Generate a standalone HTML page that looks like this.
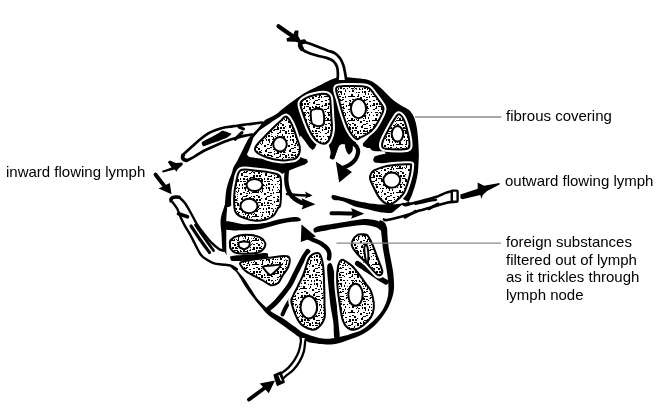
<!DOCTYPE html>
<html><head><meta charset="utf-8"><style>
html,body{margin:0;padding:0;background:#fff;}
body{width:669px;height:418px;position:relative;overflow:hidden;font-family:"Liberation Sans",sans-serif;color:#000;}
svg{position:absolute;left:0;top:0;}
.t{position:absolute;font-size:15px;line-height:17.7px;white-space:nowrap;-webkit-font-smoothing:antialiased;will-change:transform;}
</style></head><body>
<svg width="669" height="418" viewBox="0 0 669 418"><defs><pattern id="st" width="24" height="24" patternUnits="userSpaceOnUse"><rect width="24" height="24" fill="#fff"/><g fill="#000"><rect x="0" y="1" width="2" height="2"/><rect x="3" y="0" width="2" height="1"/><rect x="6" y="1" width="2" height="1"/><rect x="9" y="0" width="1" height="2"/><rect x="12" y="0" width="3" height="1"/><rect x="15" y="0" width="3" height="1"/><rect x="18" y="0" width="1" height="1"/><rect x="21" y="0" width="1" height="1"/><rect x="2" y="5" width="1" height="1"/><rect x="3" y="4" width="3" height="1"/><rect x="6" y="3" width="2" height="1"/><rect x="9" y="5" width="2" height="1"/><rect x="13" y="4" width="2" height="1"/><rect x="16" y="3" width="2" height="1"/><rect x="18" y="4" width="2" height="2"/><rect x="1" y="6" width="2" height="2"/><rect x="4" y="8" width="2" height="1"/><rect x="6" y="8" width="2" height="1"/><rect x="13" y="7" width="2" height="2"/><rect x="16" y="7" width="2" height="2"/><rect x="19" y="7" width="2" height="2"/><rect x="21" y="6" width="1" height="1"/><rect x="0" y="10" width="1" height="2"/><rect x="3" y="10" width="2" height="2"/><rect x="6" y="11" width="2" height="1"/><rect x="10" y="9" width="1" height="2"/><rect x="12" y="9" width="3" height="1"/><rect x="16" y="10" width="1" height="2"/><rect x="18" y="10" width="3" height="1"/><rect x="21" y="11" width="2" height="1"/><rect x="0" y="13" width="2" height="1"/><rect x="3" y="13" width="3" height="1"/><rect x="8" y="12" width="1" height="1"/><rect x="13" y="13" width="2" height="1"/><rect x="15" y="12" width="2" height="1"/><rect x="18" y="14" width="1" height="1"/><rect x="21" y="12" width="2" height="2"/><rect x="2" y="16" width="1" height="2"/><rect x="4" y="15" width="2" height="2"/><rect x="7" y="16" width="2" height="1"/><rect x="11" y="16" width="1" height="1"/><rect x="15" y="16" width="3" height="1"/><rect x="19" y="16" width="2" height="1"/><rect x="23" y="16" width="1" height="2"/><rect x="2" y="19" width="1" height="2"/><rect x="4" y="19" width="2" height="2"/><rect x="9" y="18" width="1" height="2"/><rect x="13" y="19" width="1" height="1"/><rect x="16" y="18" width="2" height="2"/><rect x="20" y="20" width="1" height="1"/><rect x="22" y="20" width="2" height="1"/><rect x="5" y="21" width="1" height="2"/><rect x="8" y="21" width="1" height="2"/><rect x="15" y="22" width="2" height="2"/><rect x="22" y="22" width="1" height="2"/></g></pattern><pattern id="st2" width="24" height="24" patternUnits="userSpaceOnUse"><g fill="#000"><rect x="7" y="0" width="1" height="1"/><rect x="11" y="1" width="1" height="1"/><rect x="22" y="0" width="1" height="1"/><rect x="4" y="3" width="1" height="1"/><rect x="12" y="3" width="1" height="1"/><rect x="21" y="2" width="1" height="1"/><rect x="22" y="3" width="1" height="1"/><rect x="1" y="5" width="1" height="1"/><rect x="5" y="4" width="1" height="1"/><rect x="6" y="4" width="1" height="1"/><rect x="11" y="4" width="1" height="1"/><rect x="14" y="5" width="1" height="1"/><rect x="21" y="4" width="1" height="1"/><rect x="2" y="6" width="1" height="1"/><rect x="7" y="7" width="1" height="1"/><rect x="10" y="7" width="1" height="1"/><rect x="13" y="6" width="1" height="1"/><rect x="19" y="7" width="1" height="1"/><rect x="21" y="6" width="1" height="1"/><rect x="3" y="9" width="1" height="1"/><rect x="7" y="8" width="1" height="1"/><rect x="11" y="9" width="1" height="1"/><rect x="21" y="8" width="1" height="1"/><rect x="1" y="11" width="1" height="1"/><rect x="5" y="11" width="1" height="1"/><rect x="7" y="10" width="1" height="1"/><rect x="9" y="10" width="1" height="1"/><rect x="21" y="10" width="1" height="1"/><rect x="4" y="13" width="1" height="1"/><rect x="7" y="12" width="1" height="1"/><rect x="12" y="13" width="1" height="1"/><rect x="19" y="13" width="1" height="1"/><rect x="21" y="12" width="1" height="1"/><rect x="7" y="14" width="1" height="1"/><rect x="13" y="15" width="1" height="1"/><rect x="18" y="15" width="1" height="1"/><rect x="0" y="17" width="1" height="1"/><rect x="4" y="16" width="1" height="1"/><rect x="7" y="17" width="1" height="1"/><rect x="9" y="17" width="1" height="1"/><rect x="16" y="17" width="1" height="1"/><rect x="18" y="17" width="1" height="1"/><rect x="20" y="17" width="1" height="1"/><rect x="1" y="18" width="1" height="1"/><rect x="3" y="19" width="1" height="1"/><rect x="8" y="19" width="1" height="1"/><rect x="11" y="19" width="1" height="1"/><rect x="21" y="19" width="1" height="1"/><rect x="4" y="20" width="1" height="1"/><rect x="8" y="21" width="1" height="1"/><rect x="14" y="21" width="1" height="1"/><rect x="22" y="21" width="1" height="1"/><rect x="3" y="22" width="1" height="1"/><rect x="5" y="22" width="1" height="1"/><rect x="7" y="23" width="1" height="1"/><rect x="8" y="23" width="1" height="1"/><rect x="11" y="22" width="1" height="1"/><rect x="13" y="22" width="1" height="1"/><rect x="15" y="23" width="1" height="1"/><rect x="16" y="23" width="1" height="1"/><rect x="18" y="23" width="1" height="1"/><rect x="20" y="23" width="1" height="1"/></g></pattern><clipPath id="cf0"><path d="M286,116.6 C287.8,116.7 289.2,120 290.5,122 C291.8,124 292.4,125.8 293.5,128.5 C294.6,131.2 295.9,135.3 297,138.5 C298.1,141.7 299.5,144.9 299.8,147.5 C300.1,150.1 299.8,152.2 299,154 C298.2,155.8 297.1,157.6 295.3,158.6 C293.5,159.6 290.5,159.7 288,160 C285.5,160.3 283.5,160.7 280.2,160.3 C276.9,159.9 271.5,158.9 268,157.8 C264.5,156.8 261.1,155.2 259,154 C256.9,152.8 255.9,151.6 255.3,150.5 C254.7,149.4 254.9,148.7 255.3,147.5 C255.8,146.3 256.5,145.3 258,143.5 C259.5,141.7 262.1,139.3 264.5,136.8 C266.9,134.3 269.9,131.1 272.5,128.5 C275.1,126 277.8,123.5 280,121.5 C282.2,119.5 284.2,116.5 286,116.6Z"/></clipPath><clipPath id="cf1"><path d="M300.5,103.5 C300.9,100.7 303.6,99.4 306,98 C308.4,96.6 311.9,95.7 315,95 C318.1,94.3 322,93.5 324.4,93.8 C326.8,94 328.5,94.8 329.5,96.5 C330.5,98.2 330.3,100.9 330.6,104 C330.9,107.1 331,110.7 331.2,115 C331.4,119.3 332.3,125.8 331.9,130 C331.5,134.2 330.3,137.7 329,140 C327.7,142.3 326,143.6 324,143.8 C322,144 319.1,142.6 317,141 C314.9,139.4 313.1,136.5 311.5,134 C309.9,131.5 309,129.2 307.7,126 C306.4,122.8 304.7,118.8 303.5,115 C302.3,111.2 300.1,106.3 300.5,103.5Z"/></clipPath><clipPath id="cf2"><path d="M336.5,87.5 C338.3,85.2 345.8,86.2 350,86 C354.2,85.8 358.8,86 362,86.3 C365.2,86.6 367.1,86.8 369,88 C370.9,89.2 372.1,91.5 373.7,93.5 C375.3,95.5 376.9,97.7 378.5,100 C380.1,102.3 382.6,105.4 383.3,107.4 C384,109.4 383.4,110.1 382.8,112 C382.2,113.9 381,116.2 379.5,119 C378,121.8 375.6,126.1 373.7,128.5 C371.8,130.9 370.2,132 368,133.5 C365.8,135 362.4,136.6 360.5,137.5 C358.6,138.4 358.3,140.3 356.3,139 C354.3,137.7 350.8,133.6 348.6,129.4 C346.4,125.2 344.5,119 342.9,114.1 C341.3,109.2 340.1,104.4 339,100 C337.9,95.6 334.7,89.8 336.5,87.5Z"/></clipPath><clipPath id="cf3"><path d="M398.7,114.3 C400.2,114.3 402.3,116.7 403.7,119.4 C405.1,122.2 406.4,127 407.3,130.8 C408.2,134.6 409.2,139.4 409.4,142.3 C409.6,145.2 410,146.8 408.7,148 C407.4,149.2 405.3,149.4 401.5,149.5 C397.7,149.6 388.9,149.3 385.7,148.8 C382.5,148.3 382.7,147.9 382.2,146.6 C381.7,145.3 381.8,143.8 382.9,140.9 C384,138 386.7,133 388.6,129.4 C390.5,125.8 392.7,121.9 394.4,119.4 C396.1,116.9 397.1,114.3 398.7,114.3Z"/></clipPath><clipPath id="cf4"><path d="M375,170 C377.6,168.8 381.2,166.9 386.8,165.9 C392.4,164.9 404.5,164.1 408.5,164.2 C412.5,164.3 411,164 411,166.7 C411,169.3 409.8,175.6 408.5,180.1 C407.2,184.6 405.7,189.9 403.5,193.5 C401.3,197.1 397.6,200.1 395.1,201.9 C392.6,203.7 390.9,205 388.4,204.4 C385.9,203.8 382.5,201.4 380,198.5 C377.5,195.6 375.1,190.2 373.4,186.8 C371.7,183.5 370.4,180.6 370,178.4 C369.6,176.2 370.4,174.8 371.2,173.4 C372,172 372.4,171.2 375,170Z"/></clipPath><clipPath id="cf5"><path d="M240.8,170.1 C244.3,168.2 251.7,170.3 257,170.8 C262.3,171.3 268.5,172 272.4,173 C276.3,174 278.8,173.7 280.2,176.8 C281.6,180 281,187.2 281,191.9 C281,196.7 280.7,202.6 280.2,205.3 C279.7,208 279.5,206 278.2,207.9 C276.9,209.8 275.8,214.3 272.4,216.5 C269,218.7 262.9,220.6 258.1,220.8 C253.3,221 247.5,219.4 243.7,217.9 C239.9,216.4 237.1,215.3 235.5,212 C233.9,208.7 234,202.7 234.1,197.8 C234.2,192.9 235,187.1 236.1,182.5 C237.2,177.9 237.3,172 240.8,170.1Z"/></clipPath><clipPath id="cf6"><path d="M230.7,240 C232,238.6 234.6,236.5 237.9,235.7 C241.2,234.9 247,234.6 250.8,235 C254.6,235.4 258.5,236.6 260.9,237.9 C263.3,239.2 264.7,241.1 265.2,242.9 C265.7,244.7 264.9,247.1 263.7,248.7 C262.5,250.3 260.9,251.8 258,252.6 C255.1,253.4 250.3,253.8 246.5,253.8 C242.7,253.8 237.6,253.4 235,252.6 C232.4,251.8 231.5,250.1 230.7,248.7 C229.9,247.3 230,245.8 230,244.3 C230,242.9 229.4,241.4 230.7,240Z"/></clipPath><clipPath id="cf7"><path d="M240.8,262.3 C242.7,261 249.2,260.4 253.7,259.6 C258.2,258.9 262.7,258.4 268,257.8 C273.3,257.2 281.7,255.8 285.3,256 C288.9,256.1 289.1,256.8 289.6,258.7 C290.1,260.6 289.3,264.4 288.1,267.3 C286.9,270.2 284.1,273.3 282.4,275.9 C280.7,278.5 280,281.6 278.1,283.1 C276.2,284.7 273.5,285.7 270.9,285.2 C268.3,284.7 266.4,282.5 262.3,280.2 C258.2,277.9 249.8,273.8 246.5,271.6 C243.2,269.5 243.1,268.9 242.2,267.3 C241.2,265.8 238.9,263.6 240.8,262.3Z"/></clipPath><clipPath id="cf8"><path d="M313.5,253.9 C315.3,253.1 317.9,251.9 319.5,253.9 C321.1,255.9 322.3,259.9 323.1,265.9 C323.9,271.9 324.1,283.3 324.3,289.8 C324.5,296.3 324.5,300.3 324.5,305 C324.5,309.7 325.6,314.2 324.5,318 C323.4,321.8 320.2,325.9 318,327.8 C315.8,329.7 314.4,330.3 311.4,329.5 C308.4,328.7 303.2,327.3 299.9,322.9 C296.6,318.5 292.8,307.7 291.6,303.2 C290.5,298.7 291.9,298.9 293,296 C294.1,293.1 296.2,289.8 298,286 C299.8,282.2 302.1,277.7 303.9,273.1 C305.7,268.6 307.1,261.9 308.7,258.7 C310.3,255.5 311.7,254.7 313.5,253.9Z"/></clipPath><clipPath id="cf9"><path d="M341.2,260 C342.5,259.2 344.1,260.4 346,261.5 C347.9,262.6 350,263.8 352.4,266.3 C354.8,268.8 358.3,273.4 360.6,276.4 C362.9,279.3 364.3,281.6 366,284 C367.7,286.4 369.4,287.6 370.7,290.7 C372,293.8 373.4,299.2 373.8,302.9 C374.2,306.6 373.8,310 372.8,313.1 C371.8,316.2 370.1,318.8 367.7,321.3 C365.3,323.8 361.4,327 358.5,328.3 C355.6,329.6 352.9,330.6 350.4,329.4 C347.8,328.2 345.1,326.1 343.2,321.3 C341.3,316.6 340.2,307.7 339.2,300.9 C338.2,294.1 337.3,286.3 337.1,280.5 C336.9,274.7 337.4,269.7 338.1,266.3 C338.8,262.9 339.9,260.8 341.2,260Z"/></clipPath><clipPath id="cf10"><path d="M361.2,234.3 C362.9,234.3 365.2,233.6 367,235.1 C368.8,236.6 370.3,239.9 372,243.5 C373.7,247.1 375.4,252.4 377.1,256.9 C378.8,261.4 381.4,267.4 382.1,270.3 C382.8,273.2 382.1,273.8 381.3,274.5 C380.5,275.2 379.5,276.3 377.1,274.5 C374.7,272.7 370.4,267.1 367,263.6 C363.6,260.1 359.5,256.4 357,253.5 C354.5,250.6 352.7,248.2 352,246 C351.3,243.8 352,241.9 352.8,240.1 C353.6,238.3 355.6,236.3 357,235.3 C358.4,234.3 359.5,234.3 361.2,234.3Z"/></clipPath></defs><g fill="#000"><path d="M224.8,207 C225,204.5 225.4,196.2 226,192 C226.6,187.8 227.5,185 228.4,182 C229.3,179 230.6,176.5 231.5,174 C232.4,171.5 232.6,169.3 233.6,167 C234.6,164.7 236,163.2 237.6,160.2 C239.2,157.1 241.6,152.1 243.3,148.7 C245,145.2 246.6,141.9 248,139.5 C249.4,137.1 250.3,136.3 252,134.5 C253.7,132.7 256,130.8 258,128.5 C260,126.2 262,122.8 264,121 C266,119.2 267.9,118.7 270,117.5 C272.1,116.3 274.1,115.7 276.5,114 C278.9,112.3 281.7,109.6 284.6,107.3 C287.5,105 290.9,102.6 294.1,100.3 C297.3,98 300.5,95.6 303.7,93.6 C306.9,91.6 310.6,89.9 313.3,88.5 C316,87.1 317.5,86.5 320,85.2 C322.5,84 325.6,82.2 328.3,81 C331,79.8 333.1,78.6 336,78 C338.9,77.4 342.6,77.2 345.7,77.2 C348.8,77.2 351,77.6 354.4,77.9 C357.8,78.2 362.5,78.5 365.9,79.3 C369.2,80.1 371.9,81.3 374.5,82.9 C377.1,84.5 379.3,86.5 381.7,88.7 C384.1,90.9 386.7,93.8 388.9,95.9 C391.1,98 392.8,99.8 395,101.5 C397.2,103.2 399.7,104.6 402,106 C404.3,107.4 406.8,108 408.7,109.8 C410.6,111.5 412.4,113.7 413.7,116.5 C415,119.3 415.9,122.9 416.6,126.5 C417.3,130.1 417.6,133.7 418,138 C418.4,142.3 418.7,148.4 418.8,152.4 C418.9,156.4 418.8,158.5 418.6,162 C418.4,165.5 418.3,169.6 417.7,173.4 C417.1,177.2 416.2,181.5 415.2,185.1 C414.2,188.7 413,192.4 411.9,195.2 C410.8,198 409.1,200.9 408.5,202 L403,199 L396,196 L392,185 L398,170 L396,162 L382,163.3 L374.5,162.5 L373,160 L374.5,156.5 L379,154.9 L386,153.6 L384,151.3 L375.5,151.3 L372,150.6 L369.8,148 L367.2,148 L363,146 L362.8,143.5 L368,138 L372,131 L366,131 L358,133 L357.5,140 L355.5,143.3 L351.5,145 L347,144.8 L342,144 L338.5,146 L336.5,152 L334,158.7 L331.3,158 L330.3,150 L328,143 L322,139.5 L317,143.5 L314.5,148.5 L312.5,150 L309.5,147.5 L304.5,140.5 L300.5,135.5 L296,145 L297,155 L303,158.2 L306.9,159.3 L308,162 L305,164.5 L301.1,165.8 L291.6,169.6 L286,172 L282,174 L276,176 L265,190 L240,200 L229,207Z"/><path d="M224.8,205 C224.1,207.4 221.2,214.6 220.7,219.4 C220.1,224.2 221.2,228.9 221.5,233.7 C221.8,238.5 221.9,244.5 222.2,248.1 C222.4,251.7 221.7,251.9 223,255 C224.3,258.1 227.7,263.5 230,266.5 C232.3,269.5 234.5,269.7 237,273 C239.5,276.3 242.4,282.2 245,286.2 C247.6,290.2 250.2,293.7 252.8,297.1 C255.4,300.5 258,303.4 260.6,306.4 C263.2,309.4 265.2,312.3 268.3,315 C271.4,317.7 275.3,320 279.2,322.8 C283.1,325.6 288.2,329.3 291.7,331.8 C295.2,334.3 297.8,336.4 300,337.8 C302.2,339.2 303.1,339.2 305,340 C306.9,340.8 307,342.1 311.4,342.8 C315.8,343.6 325.1,344.9 331.1,344.5 C337.1,344.1 342.1,342 347.6,340.2 C353.1,338.4 359.1,336.5 364,333.6 C368.9,330.7 373.4,326.9 377.2,322.9 C381,318.9 384.5,313.8 387,309.7 C389.5,305.6 390.8,301.8 392,298.2 C393.2,294.6 393.8,292.1 394,288 C394.2,283.9 393.8,278.3 393.3,273.7 C392.8,269.1 391.8,264.5 391,260.3 C390.2,256.1 389.4,252.6 388.8,248.5 C388.2,244.4 387.8,239.4 387.5,236 C387.2,232.6 387.5,230.2 387,228 C386.5,225.8 385.7,223.8 384.5,222.5 C383.3,221.2 380.8,220.4 380,220 L377,225 C377.6,225.7 379.8,227.3 380.5,229 C381.2,230.7 381.1,231.8 381.5,235.1 C381.9,238.3 382.3,244.3 382.9,248.5 C383.5,252.7 384.3,256.1 385,260.3 C385.7,264.5 386.6,269.1 387.2,273.7 C387.8,278.3 388.5,283.6 388.5,288 C388.5,292.4 388.3,295.7 387,299.9 C385.7,304.1 383.5,308.9 380.5,313 C377.5,317.1 373.1,321.4 369,324.5 C364.9,327.6 360.8,329.8 355.8,331.9 C350.9,334 344.8,335.8 339.3,336.9 C333.8,338 328.8,339.2 322.9,338.5 C317,337.8 308.8,334.9 304.1,332.9 C299.4,330.9 298.2,329 294.8,326.7 C291.4,324.4 287.5,321.2 283.9,318.9 C280.3,316.6 276.1,314.8 273,312.7 C269.9,310.6 267.8,308.7 265.2,306.4 C262.6,304.1 259.7,301.5 257.4,298.7 C255.1,295.9 253.6,292.9 251.2,289.3 C248.8,285.7 246,280.9 243,277 C240,273.1 235.7,269.5 233,266 C230.3,262.5 228.1,259.5 227,256 C225.9,252.5 226.4,248.7 226.3,245 C226.2,241.3 226.3,238 226.3,233.7 C226.3,229.4 226.1,224.2 226.3,219.4 C226.5,214.6 227.3,207.4 227.5,205Z"/><path d="M287,169 C286.9,170.8 286.2,176.7 286.3,180 C286.4,183.3 286.9,186.2 287.8,189 C288.8,191.8 290.1,194.4 292,196.5 C293.9,198.6 296.7,200.2 299,201.5 C301.3,202.8 304.8,203.6 306,204" fill="none" stroke="#000" stroke-width="4.4" stroke-linecap="round" stroke-linejoin="round"/><path d="M315.5,204.3 L301.5,198.2 L303.5,204.5 L301.5,209.6Z" fill="#000"/><path d="M287,194 C288.7,194.2 293.3,194.7 297,195 C300.7,195.3 307,195.5 309,195.6" fill="none" stroke="#000" stroke-width="2.6" stroke-linecap="round" stroke-linejoin="round"/><path d="M312.5,195.5 L305,191.5 L306.5,195.2 L305,198.5Z" fill="#000"/><path d="M226,221.5 C228.9,220.6 237.2,224 243.7,224.2 C250.2,224.4 259.2,223.6 265.2,222.8 C271.2,222 274.6,220.3 279.6,219.3 C284.6,218.3 292,217.1 295.4,217 C298.8,216.9 299.2,217.9 299.9,218.6 C300.6,219.3 301.9,220.3 299.7,221 C297.5,221.7 291.4,221.7 286.8,222.5 C282.2,223.3 277.2,224.8 272.4,226 C267.6,227.2 262.9,228.9 258.1,229.6 C253.3,230.3 249,230.3 243.7,230.3 C238.3,230.3 228.9,231.1 226,229.6 C223.1,228.1 223.1,222.4 226,221.5Z"/><path d="M307.8,251.5 C307.2,252.4 305.2,255.1 304,257 C302.8,258.9 302.2,260.2 300.8,263 C299.4,265.8 297.3,269.9 295.5,273.5 C293.7,277.1 292.1,281.1 290,284.5 C287.9,287.9 285.4,291 283,294 C280.6,297 278.3,299.9 275.8,302.5 C273.3,305.1 269.3,308.3 268,309.5" fill="none" stroke="#000" stroke-width="5" stroke-linecap="round" stroke-linejoin="round"/><path d="M282.5,314.5 C283.1,313.2 284.6,309.6 286,307 C287.4,304.4 289.3,301.4 291,299 C292.7,296.6 295.4,293.6 296.3,292.5" fill="none" stroke="#000" stroke-width="4" stroke-linecap="round" stroke-linejoin="round"/><path d="M327.3,266 C327.7,263.8 329.1,263 330,263 C330.9,263 331.5,263.2 332.5,266 C333.5,268.8 335,276 336,280 C337,284 338.3,285.7 338.5,290 C338.7,294.3 337,300.5 337,306 C337,311.5 338.1,317.6 338.5,322.9 C338.9,328.2 340.2,335.5 339.5,338 C338.8,340.5 335.5,340.5 334.5,338 C333.5,335.5 334,328.2 333.4,322.9 C332.8,317.6 331.4,311.9 330.6,306.4 C329.8,300.9 329.3,295.1 328.8,290 C328.3,284.9 327.8,280 327.5,276 C327.2,272 326.9,268.2 327.3,266Z"/><path d="M357.5,263.5 C358.8,264.3 362.6,266.9 365,268.5 C367.4,270.1 369.5,271.5 372,273.2 C374.5,274.9 377.7,277 380,278.5 C382.3,280 385,281.4 386,282" fill="none" stroke="#000" stroke-width="5.2" stroke-linecap="round" stroke-linejoin="round"/></g><path d="M253.3,138 C253.7,137.2 255.4,135.2 256,134.5 C256.6,133.8 258.8,131.2 259.5,130.5 C260.2,129.8 262.3,128.5 263,128 C263.7,127.5 265.9,126.1 266.7,125.6 C267.5,125 270.2,123.1 271,122.5 C271.8,121.9 274.3,120.3 275.1,119.8 C275.9,119.3 278.3,117.7 279,117.2 C279.7,116.7 281.8,115.2 282.5,115 C283.2,114.8 285.9,114.5 286,115.5 C286.1,116.5 285.4,122.5 284,125 C282.6,127.5 274,137.3 272,140 C270,142.7 265,150.2 264,152 C263,153.8 262.8,157.7 262,158.3 C261.2,158.9 257.2,158.1 256,158 C254.8,157.9 250.4,157.3 249.5,157 C248.6,156.7 247.1,155.1 247,154.5 C246.9,153.9 248.2,151.8 248.5,151 C248.8,150.2 249.9,147.8 250.2,147 C250.5,146.2 251.5,143.4 251.8,142.5 C252.1,141.6 252.9,138.8 253.3,138Z" fill="#fff"/><g fill="#fff" stroke="#fff" stroke-width="6" stroke-linejoin="round"><path d="M286,116.6 C287.8,116.7 289.2,120 290.5,122 C291.8,124 292.4,125.8 293.5,128.5 C294.6,131.2 295.9,135.3 297,138.5 C298.1,141.7 299.5,144.9 299.8,147.5 C300.1,150.1 299.8,152.2 299,154 C298.2,155.8 297.1,157.6 295.3,158.6 C293.5,159.6 290.5,159.7 288,160 C285.5,160.3 283.5,160.7 280.2,160.3 C276.9,159.9 271.5,158.9 268,157.8 C264.5,156.8 261.1,155.2 259,154 C256.9,152.8 255.9,151.6 255.3,150.5 C254.7,149.4 254.9,148.7 255.3,147.5 C255.8,146.3 256.5,145.3 258,143.5 C259.5,141.7 262.1,139.3 264.5,136.8 C266.9,134.3 269.9,131.1 272.5,128.5 C275.1,126 277.8,123.5 280,121.5 C282.2,119.5 284.2,116.5 286,116.6Z"/><path d="M300.5,103.5 C300.9,100.7 303.6,99.4 306,98 C308.4,96.6 311.9,95.7 315,95 C318.1,94.3 322,93.5 324.4,93.8 C326.8,94 328.5,94.8 329.5,96.5 C330.5,98.2 330.3,100.9 330.6,104 C330.9,107.1 331,110.7 331.2,115 C331.4,119.3 332.3,125.8 331.9,130 C331.5,134.2 330.3,137.7 329,140 C327.7,142.3 326,143.6 324,143.8 C322,144 319.1,142.6 317,141 C314.9,139.4 313.1,136.5 311.5,134 C309.9,131.5 309,129.2 307.7,126 C306.4,122.8 304.7,118.8 303.5,115 C302.3,111.2 300.1,106.3 300.5,103.5Z"/><path d="M336.5,87.5 C338.3,85.2 345.8,86.2 350,86 C354.2,85.8 358.8,86 362,86.3 C365.2,86.6 367.1,86.8 369,88 C370.9,89.2 372.1,91.5 373.7,93.5 C375.3,95.5 376.9,97.7 378.5,100 C380.1,102.3 382.6,105.4 383.3,107.4 C384,109.4 383.4,110.1 382.8,112 C382.2,113.9 381,116.2 379.5,119 C378,121.8 375.6,126.1 373.7,128.5 C371.8,130.9 370.2,132 368,133.5 C365.8,135 362.4,136.6 360.5,137.5 C358.6,138.4 358.3,140.3 356.3,139 C354.3,137.7 350.8,133.6 348.6,129.4 C346.4,125.2 344.5,119 342.9,114.1 C341.3,109.2 340.1,104.4 339,100 C337.9,95.6 334.7,89.8 336.5,87.5Z"/><path d="M398.7,114.3 C400.2,114.3 402.3,116.7 403.7,119.4 C405.1,122.2 406.4,127 407.3,130.8 C408.2,134.6 409.2,139.4 409.4,142.3 C409.6,145.2 410,146.8 408.7,148 C407.4,149.2 405.3,149.4 401.5,149.5 C397.7,149.6 388.9,149.3 385.7,148.8 C382.5,148.3 382.7,147.9 382.2,146.6 C381.7,145.3 381.8,143.8 382.9,140.9 C384,138 386.7,133 388.6,129.4 C390.5,125.8 392.7,121.9 394.4,119.4 C396.1,116.9 397.1,114.3 398.7,114.3Z"/><path d="M375,170 C377.6,168.8 381.2,166.9 386.8,165.9 C392.4,164.9 404.5,164.1 408.5,164.2 C412.5,164.3 411,164 411,166.7 C411,169.3 409.8,175.6 408.5,180.1 C407.2,184.6 405.7,189.9 403.5,193.5 C401.3,197.1 397.6,200.1 395.1,201.9 C392.6,203.7 390.9,205 388.4,204.4 C385.9,203.8 382.5,201.4 380,198.5 C377.5,195.6 375.1,190.2 373.4,186.8 C371.7,183.5 370.4,180.6 370,178.4 C369.6,176.2 370.4,174.8 371.2,173.4 C372,172 372.4,171.2 375,170Z"/><path d="M240.8,170.1 C244.3,168.2 251.7,170.3 257,170.8 C262.3,171.3 268.5,172 272.4,173 C276.3,174 278.8,173.7 280.2,176.8 C281.6,180 281,187.2 281,191.9 C281,196.7 280.7,202.6 280.2,205.3 C279.7,208 279.5,206 278.2,207.9 C276.9,209.8 275.8,214.3 272.4,216.5 C269,218.7 262.9,220.6 258.1,220.8 C253.3,221 247.5,219.4 243.7,217.9 C239.9,216.4 237.1,215.3 235.5,212 C233.9,208.7 234,202.7 234.1,197.8 C234.2,192.9 235,187.1 236.1,182.5 C237.2,177.9 237.3,172 240.8,170.1Z"/><path d="M230.7,240 C232,238.6 234.6,236.5 237.9,235.7 C241.2,234.9 247,234.6 250.8,235 C254.6,235.4 258.5,236.6 260.9,237.9 C263.3,239.2 264.7,241.1 265.2,242.9 C265.7,244.7 264.9,247.1 263.7,248.7 C262.5,250.3 260.9,251.8 258,252.6 C255.1,253.4 250.3,253.8 246.5,253.8 C242.7,253.8 237.6,253.4 235,252.6 C232.4,251.8 231.5,250.1 230.7,248.7 C229.9,247.3 230,245.8 230,244.3 C230,242.9 229.4,241.4 230.7,240Z"/><path d="M240.8,262.3 C242.7,261 249.2,260.4 253.7,259.6 C258.2,258.9 262.7,258.4 268,257.8 C273.3,257.2 281.7,255.8 285.3,256 C288.9,256.1 289.1,256.8 289.6,258.7 C290.1,260.6 289.3,264.4 288.1,267.3 C286.9,270.2 284.1,273.3 282.4,275.9 C280.7,278.5 280,281.6 278.1,283.1 C276.2,284.7 273.5,285.7 270.9,285.2 C268.3,284.7 266.4,282.5 262.3,280.2 C258.2,277.9 249.8,273.8 246.5,271.6 C243.2,269.5 243.1,268.9 242.2,267.3 C241.2,265.8 238.9,263.6 240.8,262.3Z"/><path d="M313.5,253.9 C315.3,253.1 317.9,251.9 319.5,253.9 C321.1,255.9 322.3,259.9 323.1,265.9 C323.9,271.9 324.1,283.3 324.3,289.8 C324.5,296.3 324.5,300.3 324.5,305 C324.5,309.7 325.6,314.2 324.5,318 C323.4,321.8 320.2,325.9 318,327.8 C315.8,329.7 314.4,330.3 311.4,329.5 C308.4,328.7 303.2,327.3 299.9,322.9 C296.6,318.5 292.8,307.7 291.6,303.2 C290.5,298.7 291.9,298.9 293,296 C294.1,293.1 296.2,289.8 298,286 C299.8,282.2 302.1,277.7 303.9,273.1 C305.7,268.6 307.1,261.9 308.7,258.7 C310.3,255.5 311.7,254.7 313.5,253.9Z"/><path d="M341.2,260 C342.5,259.2 344.1,260.4 346,261.5 C347.9,262.6 350,263.8 352.4,266.3 C354.8,268.8 358.3,273.4 360.6,276.4 C362.9,279.3 364.3,281.6 366,284 C367.7,286.4 369.4,287.6 370.7,290.7 C372,293.8 373.4,299.2 373.8,302.9 C374.2,306.6 373.8,310 372.8,313.1 C371.8,316.2 370.1,318.8 367.7,321.3 C365.3,323.8 361.4,327 358.5,328.3 C355.6,329.6 352.9,330.6 350.4,329.4 C347.8,328.2 345.1,326.1 343.2,321.3 C341.3,316.6 340.2,307.7 339.2,300.9 C338.2,294.1 337.3,286.3 337.1,280.5 C336.9,274.7 337.4,269.7 338.1,266.3 C338.8,262.9 339.9,260.8 341.2,260Z"/><path d="M361.2,234.3 C362.9,234.3 365.2,233.6 367,235.1 C368.8,236.6 370.3,239.9 372,243.5 C373.7,247.1 375.4,252.4 377.1,256.9 C378.8,261.4 381.4,267.4 382.1,270.3 C382.8,273.2 382.1,273.8 381.3,274.5 C380.5,275.2 379.5,276.3 377.1,274.5 C374.7,272.7 370.4,267.1 367,263.6 C363.6,260.1 359.5,256.4 357,253.5 C354.5,250.6 352.7,248.2 352,246 C351.3,243.8 352,241.9 352.8,240.1 C353.6,238.3 355.6,236.3 357,235.3 C358.4,234.3 359.5,234.3 361.2,234.3Z"/></g><g fill="#000"><path d="M338,142 C337.5,143.2 335.9,146.5 335,149 C334.1,151.5 332.8,155.7 332.3,157" fill="none" stroke="#000" stroke-width="5" stroke-linecap="round" stroke-linejoin="round"/><path d="M347,143.5 C348.2,143.7 352.7,143.5 354.5,144.5 C356.3,145.5 357.5,147.8 358,149.5 C358.5,151.2 358,153.2 357.5,155 C357,156.8 356.2,158.4 355,160 C353.8,161.6 352.2,163.1 350,164.5 C347.8,165.9 343.3,167.8 342,168.5" fill="none" stroke="#000" stroke-width="4.2" stroke-linecap="round" stroke-linejoin="round"/><path d="M345.5,144.5 C346.5,143.7 350.8,144 352,145 C353.2,146 353,148.9 352.5,150.5 C352,152.1 350.1,154.6 349,154.5 C347.9,154.4 346.6,151.7 346,150 C345.4,148.3 344.5,145.3 345.5,144.5Z"/><path d="M335.8,161.5 L352,172 L339.2,182.5Z" fill="#000"/><path d="M232,256 C235.2,255.3 244.3,255.1 250,254.6 C255.7,254.1 263,252.8 266,253 C269,253.2 267.9,254.7 268,255.5 C268.1,256.3 269.3,257.2 266.5,258 C263.7,258.8 256.6,259.8 251,260.3 C245.4,260.8 236.4,261.3 233,261 C229.6,260.7 230.7,259.3 230.5,258.5 C230.3,257.7 228.8,256.6 232,256Z"/><path d="M333,195 C334.5,195 340.1,196.6 343,197.3 C345.9,198 351.6,199.8 355,200.6 C358.4,201.4 364.9,202.7 368.5,203.2 C372.1,203.7 378.7,204.4 381.9,204.5 C385.1,204.6 390,204.4 392.7,204.3 C395.4,204.2 399.8,203.8 402,203.5 C404.2,203.2 407.5,201.8 409,202 C410.5,202.2 413,204.3 413,205 C413,205.7 410.3,206.7 408.8,207.3 C407.3,207.9 403.7,208.9 401.6,209.6 C399.5,210.3 395.3,212.4 392.7,212.8 C390.1,213.2 385.1,213 381.9,212.5 C378.7,212 372.1,210.2 368.5,209.4 C364.9,208.6 358.4,207.6 355,206.5 C351.6,205.4 345.8,202.2 343,201.3 C340.2,200.4 335.5,200.5 334,200 C332.5,199.5 331.6,198.2 331.5,197.5 C331.4,196.8 331.5,195 333,195Z"/><path d="M331.5,213.3 C332.9,213.3 336.6,213.3 340,213.3 C343.4,213.3 350,213.5 352,213.5" fill="none" stroke="#000" stroke-width="4" stroke-linecap="round" stroke-linejoin="round"/><path d="M364.3,213.8 L351.1,208 L353,213.5 L351.1,218.7Z" fill="#000"/><path d="M313.5,229 C314,228.2 314.9,227 318,226.2 C321.1,225.4 331,224.1 336.9,223.2 C342.8,222.3 356.9,219.6 362,219.2 C367.1,218.8 372.7,219.7 375.4,220.3 C378.1,220.9 381.1,222.3 382.5,223.5 C383.9,224.7 386.2,228.1 386,229 C385.8,229.9 382.3,230.7 381,230.5 C379.7,230.3 378.5,227.9 376,227.2 C373.5,226.5 367.2,224.8 362,225 C356.8,225.2 342.8,227.6 336.9,228.5 C331,229.4 321,231.5 318,232 C315,232.5 315.1,232.9 314.5,232.5 C313.9,232.1 313,229.8 313.5,229Z"/><path d="M329,258.5 C329.1,257.7 329.6,255.1 329.3,253.5 C329.1,251.9 328.8,250.6 327.5,249 C326.2,247.4 323.6,245.2 321.3,243.7 C319.1,242.2 316.2,241.2 314,240.2 C311.8,239.2 309,237.9 308,237.5" fill="none" stroke="#000" stroke-width="4.4" stroke-linecap="round" stroke-linejoin="round"/><path d="M301.5,224.5 L300.8,242 L316,236.5Z" fill="#000"/></g><g fill="url(#st)" stroke="none"><path d="M286,116.6 C287.8,116.7 289.2,120 290.5,122 C291.8,124 292.4,125.8 293.5,128.5 C294.6,131.2 295.9,135.3 297,138.5 C298.1,141.7 299.5,144.9 299.8,147.5 C300.1,150.1 299.8,152.2 299,154 C298.2,155.8 297.1,157.6 295.3,158.6 C293.5,159.6 290.5,159.7 288,160 C285.5,160.3 283.5,160.7 280.2,160.3 C276.9,159.9 271.5,158.9 268,157.8 C264.5,156.8 261.1,155.2 259,154 C256.9,152.8 255.9,151.6 255.3,150.5 C254.7,149.4 254.9,148.7 255.3,147.5 C255.8,146.3 256.5,145.3 258,143.5 C259.5,141.7 262.1,139.3 264.5,136.8 C266.9,134.3 269.9,131.1 272.5,128.5 C275.1,126 277.8,123.5 280,121.5 C282.2,119.5 284.2,116.5 286,116.6Z"/><path d="M300.5,103.5 C300.9,100.7 303.6,99.4 306,98 C308.4,96.6 311.9,95.7 315,95 C318.1,94.3 322,93.5 324.4,93.8 C326.8,94 328.5,94.8 329.5,96.5 C330.5,98.2 330.3,100.9 330.6,104 C330.9,107.1 331,110.7 331.2,115 C331.4,119.3 332.3,125.8 331.9,130 C331.5,134.2 330.3,137.7 329,140 C327.7,142.3 326,143.6 324,143.8 C322,144 319.1,142.6 317,141 C314.9,139.4 313.1,136.5 311.5,134 C309.9,131.5 309,129.2 307.7,126 C306.4,122.8 304.7,118.8 303.5,115 C302.3,111.2 300.1,106.3 300.5,103.5Z"/><path d="M336.5,87.5 C338.3,85.2 345.8,86.2 350,86 C354.2,85.8 358.8,86 362,86.3 C365.2,86.6 367.1,86.8 369,88 C370.9,89.2 372.1,91.5 373.7,93.5 C375.3,95.5 376.9,97.7 378.5,100 C380.1,102.3 382.6,105.4 383.3,107.4 C384,109.4 383.4,110.1 382.8,112 C382.2,113.9 381,116.2 379.5,119 C378,121.8 375.6,126.1 373.7,128.5 C371.8,130.9 370.2,132 368,133.5 C365.8,135 362.4,136.6 360.5,137.5 C358.6,138.4 358.3,140.3 356.3,139 C354.3,137.7 350.8,133.6 348.6,129.4 C346.4,125.2 344.5,119 342.9,114.1 C341.3,109.2 340.1,104.4 339,100 C337.9,95.6 334.7,89.8 336.5,87.5Z"/><path d="M398.7,114.3 C400.2,114.3 402.3,116.7 403.7,119.4 C405.1,122.2 406.4,127 407.3,130.8 C408.2,134.6 409.2,139.4 409.4,142.3 C409.6,145.2 410,146.8 408.7,148 C407.4,149.2 405.3,149.4 401.5,149.5 C397.7,149.6 388.9,149.3 385.7,148.8 C382.5,148.3 382.7,147.9 382.2,146.6 C381.7,145.3 381.8,143.8 382.9,140.9 C384,138 386.7,133 388.6,129.4 C390.5,125.8 392.7,121.9 394.4,119.4 C396.1,116.9 397.1,114.3 398.7,114.3Z"/><path d="M375,170 C377.6,168.8 381.2,166.9 386.8,165.9 C392.4,164.9 404.5,164.1 408.5,164.2 C412.5,164.3 411,164 411,166.7 C411,169.3 409.8,175.6 408.5,180.1 C407.2,184.6 405.7,189.9 403.5,193.5 C401.3,197.1 397.6,200.1 395.1,201.9 C392.6,203.7 390.9,205 388.4,204.4 C385.9,203.8 382.5,201.4 380,198.5 C377.5,195.6 375.1,190.2 373.4,186.8 C371.7,183.5 370.4,180.6 370,178.4 C369.6,176.2 370.4,174.8 371.2,173.4 C372,172 372.4,171.2 375,170Z"/><path d="M240.8,170.1 C244.3,168.2 251.7,170.3 257,170.8 C262.3,171.3 268.5,172 272.4,173 C276.3,174 278.8,173.7 280.2,176.8 C281.6,180 281,187.2 281,191.9 C281,196.7 280.7,202.6 280.2,205.3 C279.7,208 279.5,206 278.2,207.9 C276.9,209.8 275.8,214.3 272.4,216.5 C269,218.7 262.9,220.6 258.1,220.8 C253.3,221 247.5,219.4 243.7,217.9 C239.9,216.4 237.1,215.3 235.5,212 C233.9,208.7 234,202.7 234.1,197.8 C234.2,192.9 235,187.1 236.1,182.5 C237.2,177.9 237.3,172 240.8,170.1Z"/><path d="M230.7,240 C232,238.6 234.6,236.5 237.9,235.7 C241.2,234.9 247,234.6 250.8,235 C254.6,235.4 258.5,236.6 260.9,237.9 C263.3,239.2 264.7,241.1 265.2,242.9 C265.7,244.7 264.9,247.1 263.7,248.7 C262.5,250.3 260.9,251.8 258,252.6 C255.1,253.4 250.3,253.8 246.5,253.8 C242.7,253.8 237.6,253.4 235,252.6 C232.4,251.8 231.5,250.1 230.7,248.7 C229.9,247.3 230,245.8 230,244.3 C230,242.9 229.4,241.4 230.7,240Z"/><path d="M240.8,262.3 C242.7,261 249.2,260.4 253.7,259.6 C258.2,258.9 262.7,258.4 268,257.8 C273.3,257.2 281.7,255.8 285.3,256 C288.9,256.1 289.1,256.8 289.6,258.7 C290.1,260.6 289.3,264.4 288.1,267.3 C286.9,270.2 284.1,273.3 282.4,275.9 C280.7,278.5 280,281.6 278.1,283.1 C276.2,284.7 273.5,285.7 270.9,285.2 C268.3,284.7 266.4,282.5 262.3,280.2 C258.2,277.9 249.8,273.8 246.5,271.6 C243.2,269.5 243.1,268.9 242.2,267.3 C241.2,265.8 238.9,263.6 240.8,262.3Z"/><path d="M313.5,253.9 C315.3,253.1 317.9,251.9 319.5,253.9 C321.1,255.9 322.3,259.9 323.1,265.9 C323.9,271.9 324.1,283.3 324.3,289.8 C324.5,296.3 324.5,300.3 324.5,305 C324.5,309.7 325.6,314.2 324.5,318 C323.4,321.8 320.2,325.9 318,327.8 C315.8,329.7 314.4,330.3 311.4,329.5 C308.4,328.7 303.2,327.3 299.9,322.9 C296.6,318.5 292.8,307.7 291.6,303.2 C290.5,298.7 291.9,298.9 293,296 C294.1,293.1 296.2,289.8 298,286 C299.8,282.2 302.1,277.7 303.9,273.1 C305.7,268.6 307.1,261.9 308.7,258.7 C310.3,255.5 311.7,254.7 313.5,253.9Z"/><path d="M341.2,260 C342.5,259.2 344.1,260.4 346,261.5 C347.9,262.6 350,263.8 352.4,266.3 C354.8,268.8 358.3,273.4 360.6,276.4 C362.9,279.3 364.3,281.6 366,284 C367.7,286.4 369.4,287.6 370.7,290.7 C372,293.8 373.4,299.2 373.8,302.9 C374.2,306.6 373.8,310 372.8,313.1 C371.8,316.2 370.1,318.8 367.7,321.3 C365.3,323.8 361.4,327 358.5,328.3 C355.6,329.6 352.9,330.6 350.4,329.4 C347.8,328.2 345.1,326.1 343.2,321.3 C341.3,316.6 340.2,307.7 339.2,300.9 C338.2,294.1 337.3,286.3 337.1,280.5 C336.9,274.7 337.4,269.7 338.1,266.3 C338.8,262.9 339.9,260.8 341.2,260Z"/><path d="M361.2,234.3 C362.9,234.3 365.2,233.6 367,235.1 C368.8,236.6 370.3,239.9 372,243.5 C373.7,247.1 375.4,252.4 377.1,256.9 C378.8,261.4 381.4,267.4 382.1,270.3 C382.8,273.2 382.1,273.8 381.3,274.5 C380.5,275.2 379.5,276.3 377.1,274.5 C374.7,272.7 370.4,267.1 367,263.6 C363.6,260.1 359.5,256.4 357,253.5 C354.5,250.6 352.7,248.2 352,246 C351.3,243.8 352,241.9 352.8,240.1 C353.6,238.3 355.6,236.3 357,235.3 C358.4,234.3 359.5,234.3 361.2,234.3Z"/></g><g fill="none" stroke="url(#st2)" stroke-width="7"><path d="M286,116.6 C287.8,116.7 289.2,120 290.5,122 C291.8,124 292.4,125.8 293.5,128.5 C294.6,131.2 295.9,135.3 297,138.5 C298.1,141.7 299.5,144.9 299.8,147.5 C300.1,150.1 299.8,152.2 299,154 C298.2,155.8 297.1,157.6 295.3,158.6 C293.5,159.6 290.5,159.7 288,160 C285.5,160.3 283.5,160.7 280.2,160.3 C276.9,159.9 271.5,158.9 268,157.8 C264.5,156.8 261.1,155.2 259,154 C256.9,152.8 255.9,151.6 255.3,150.5 C254.7,149.4 254.9,148.7 255.3,147.5 C255.8,146.3 256.5,145.3 258,143.5 C259.5,141.7 262.1,139.3 264.5,136.8 C266.9,134.3 269.9,131.1 272.5,128.5 C275.1,126 277.8,123.5 280,121.5 C282.2,119.5 284.2,116.5 286,116.6Z" clip-path="url(#cf0)"/><path d="M300.5,103.5 C300.9,100.7 303.6,99.4 306,98 C308.4,96.6 311.9,95.7 315,95 C318.1,94.3 322,93.5 324.4,93.8 C326.8,94 328.5,94.8 329.5,96.5 C330.5,98.2 330.3,100.9 330.6,104 C330.9,107.1 331,110.7 331.2,115 C331.4,119.3 332.3,125.8 331.9,130 C331.5,134.2 330.3,137.7 329,140 C327.7,142.3 326,143.6 324,143.8 C322,144 319.1,142.6 317,141 C314.9,139.4 313.1,136.5 311.5,134 C309.9,131.5 309,129.2 307.7,126 C306.4,122.8 304.7,118.8 303.5,115 C302.3,111.2 300.1,106.3 300.5,103.5Z" clip-path="url(#cf1)"/><path d="M336.5,87.5 C338.3,85.2 345.8,86.2 350,86 C354.2,85.8 358.8,86 362,86.3 C365.2,86.6 367.1,86.8 369,88 C370.9,89.2 372.1,91.5 373.7,93.5 C375.3,95.5 376.9,97.7 378.5,100 C380.1,102.3 382.6,105.4 383.3,107.4 C384,109.4 383.4,110.1 382.8,112 C382.2,113.9 381,116.2 379.5,119 C378,121.8 375.6,126.1 373.7,128.5 C371.8,130.9 370.2,132 368,133.5 C365.8,135 362.4,136.6 360.5,137.5 C358.6,138.4 358.3,140.3 356.3,139 C354.3,137.7 350.8,133.6 348.6,129.4 C346.4,125.2 344.5,119 342.9,114.1 C341.3,109.2 340.1,104.4 339,100 C337.9,95.6 334.7,89.8 336.5,87.5Z" clip-path="url(#cf2)"/><path d="M398.7,114.3 C400.2,114.3 402.3,116.7 403.7,119.4 C405.1,122.2 406.4,127 407.3,130.8 C408.2,134.6 409.2,139.4 409.4,142.3 C409.6,145.2 410,146.8 408.7,148 C407.4,149.2 405.3,149.4 401.5,149.5 C397.7,149.6 388.9,149.3 385.7,148.8 C382.5,148.3 382.7,147.9 382.2,146.6 C381.7,145.3 381.8,143.8 382.9,140.9 C384,138 386.7,133 388.6,129.4 C390.5,125.8 392.7,121.9 394.4,119.4 C396.1,116.9 397.1,114.3 398.7,114.3Z" clip-path="url(#cf3)"/><path d="M375,170 C377.6,168.8 381.2,166.9 386.8,165.9 C392.4,164.9 404.5,164.1 408.5,164.2 C412.5,164.3 411,164 411,166.7 C411,169.3 409.8,175.6 408.5,180.1 C407.2,184.6 405.7,189.9 403.5,193.5 C401.3,197.1 397.6,200.1 395.1,201.9 C392.6,203.7 390.9,205 388.4,204.4 C385.9,203.8 382.5,201.4 380,198.5 C377.5,195.6 375.1,190.2 373.4,186.8 C371.7,183.5 370.4,180.6 370,178.4 C369.6,176.2 370.4,174.8 371.2,173.4 C372,172 372.4,171.2 375,170Z" clip-path="url(#cf4)"/><path d="M240.8,170.1 C244.3,168.2 251.7,170.3 257,170.8 C262.3,171.3 268.5,172 272.4,173 C276.3,174 278.8,173.7 280.2,176.8 C281.6,180 281,187.2 281,191.9 C281,196.7 280.7,202.6 280.2,205.3 C279.7,208 279.5,206 278.2,207.9 C276.9,209.8 275.8,214.3 272.4,216.5 C269,218.7 262.9,220.6 258.1,220.8 C253.3,221 247.5,219.4 243.7,217.9 C239.9,216.4 237.1,215.3 235.5,212 C233.9,208.7 234,202.7 234.1,197.8 C234.2,192.9 235,187.1 236.1,182.5 C237.2,177.9 237.3,172 240.8,170.1Z" clip-path="url(#cf5)"/><path d="M230.7,240 C232,238.6 234.6,236.5 237.9,235.7 C241.2,234.9 247,234.6 250.8,235 C254.6,235.4 258.5,236.6 260.9,237.9 C263.3,239.2 264.7,241.1 265.2,242.9 C265.7,244.7 264.9,247.1 263.7,248.7 C262.5,250.3 260.9,251.8 258,252.6 C255.1,253.4 250.3,253.8 246.5,253.8 C242.7,253.8 237.6,253.4 235,252.6 C232.4,251.8 231.5,250.1 230.7,248.7 C229.9,247.3 230,245.8 230,244.3 C230,242.9 229.4,241.4 230.7,240Z" clip-path="url(#cf6)"/><path d="M240.8,262.3 C242.7,261 249.2,260.4 253.7,259.6 C258.2,258.9 262.7,258.4 268,257.8 C273.3,257.2 281.7,255.8 285.3,256 C288.9,256.1 289.1,256.8 289.6,258.7 C290.1,260.6 289.3,264.4 288.1,267.3 C286.9,270.2 284.1,273.3 282.4,275.9 C280.7,278.5 280,281.6 278.1,283.1 C276.2,284.7 273.5,285.7 270.9,285.2 C268.3,284.7 266.4,282.5 262.3,280.2 C258.2,277.9 249.8,273.8 246.5,271.6 C243.2,269.5 243.1,268.9 242.2,267.3 C241.2,265.8 238.9,263.6 240.8,262.3Z" clip-path="url(#cf7)"/><path d="M313.5,253.9 C315.3,253.1 317.9,251.9 319.5,253.9 C321.1,255.9 322.3,259.9 323.1,265.9 C323.9,271.9 324.1,283.3 324.3,289.8 C324.5,296.3 324.5,300.3 324.5,305 C324.5,309.7 325.6,314.2 324.5,318 C323.4,321.8 320.2,325.9 318,327.8 C315.8,329.7 314.4,330.3 311.4,329.5 C308.4,328.7 303.2,327.3 299.9,322.9 C296.6,318.5 292.8,307.7 291.6,303.2 C290.5,298.7 291.9,298.9 293,296 C294.1,293.1 296.2,289.8 298,286 C299.8,282.2 302.1,277.7 303.9,273.1 C305.7,268.6 307.1,261.9 308.7,258.7 C310.3,255.5 311.7,254.7 313.5,253.9Z" clip-path="url(#cf8)"/><path d="M341.2,260 C342.5,259.2 344.1,260.4 346,261.5 C347.9,262.6 350,263.8 352.4,266.3 C354.8,268.8 358.3,273.4 360.6,276.4 C362.9,279.3 364.3,281.6 366,284 C367.7,286.4 369.4,287.6 370.7,290.7 C372,293.8 373.4,299.2 373.8,302.9 C374.2,306.6 373.8,310 372.8,313.1 C371.8,316.2 370.1,318.8 367.7,321.3 C365.3,323.8 361.4,327 358.5,328.3 C355.6,329.6 352.9,330.6 350.4,329.4 C347.8,328.2 345.1,326.1 343.2,321.3 C341.3,316.6 340.2,307.7 339.2,300.9 C338.2,294.1 337.3,286.3 337.1,280.5 C336.9,274.7 337.4,269.7 338.1,266.3 C338.8,262.9 339.9,260.8 341.2,260Z" clip-path="url(#cf9)"/><path d="M361.2,234.3 C362.9,234.3 365.2,233.6 367,235.1 C368.8,236.6 370.3,239.9 372,243.5 C373.7,247.1 375.4,252.4 377.1,256.9 C378.8,261.4 381.4,267.4 382.1,270.3 C382.8,273.2 382.1,273.8 381.3,274.5 C380.5,275.2 379.5,276.3 377.1,274.5 C374.7,272.7 370.4,267.1 367,263.6 C363.6,260.1 359.5,256.4 357,253.5 C354.5,250.6 352.7,248.2 352,246 C351.3,243.8 352,241.9 352.8,240.1 C353.6,238.3 355.6,236.3 357,235.3 C358.4,234.3 359.5,234.3 361.2,234.3Z" clip-path="url(#cf10)"/></g><g fill="none" stroke="url(#st2)" stroke-width="6"><ellipse cx="280" cy="144.3" rx="6.8" ry="7.2"/><path d="M311.3,110.5 C311.9,109.7 315.4,108.8 316.5,108.8 C317.6,108.8 321.7,109.1 322.5,110 C323.3,110.9 324.1,116.5 324.2,118 C324.2,119.5 323.7,124.2 323,125 C322.3,125.8 318.6,126.4 317.5,126.2 C316.4,126 312.7,124.5 312,123.5 C311.3,122.5 310.9,117.8 310.8,116.5 C310.7,115.2 310.7,111.3 311.3,110.5Z" stroke-linejoin="round"/><ellipse cx="358.5" cy="108.6" rx="7.6" ry="9.6"/><ellipse cx="397.5" cy="133.8" rx="5.8" ry="7.8"/><ellipse cx="391.8" cy="180.1" rx="8.4" ry="7.6"/><ellipse cx="254.5" cy="185" rx="8" ry="6"/><ellipse cx="249" cy="206" rx="8.6" ry="7.2"/><path d="M238.5,243 C238.9,242.4 242.4,241.6 243.5,241.5 C244.6,241.4 248.9,241.8 249.5,242.3 C250.1,242.8 249.5,245.8 249,246.5 C248.5,247.2 245.4,249.2 244.5,249.3 C243.6,249.4 240.1,247.8 239.5,247.2 C238.9,246.6 238.1,243.6 238.5,243Z" stroke-linejoin="round"/><path d="M262.8,266.8 C262.9,265.9 269.2,265.8 271,265.6 C272.8,265.4 280.4,264.4 280.8,265 C281.2,265.6 276.1,270.5 275,271.5 C273.9,272.5 271.2,275.5 270,275 C268.8,274.5 262.7,267.7 262.8,266.8Z" stroke-linejoin="round"/><ellipse cx="308.8" cy="307.3" rx="8.3" ry="11.2"/><ellipse cx="355.5" cy="294.8" rx="7.2" ry="11"/><path d="M364.3,247.5 C364.4,246.3 365.8,244.2 366.2,244.5 C366.6,244.8 367.8,248.4 368,250 C368.2,251.6 368.3,259.2 368.2,260.5 C368.1,261.8 367.1,263.2 366.8,262.8 C366.5,262.4 365.2,257.5 365,256 C364.8,254.5 364.2,248.7 364.3,247.5Z" stroke-linejoin="round"/></g><g fill="none" stroke="#000" stroke-width="2" stroke-linejoin="round"><path d="M286,116.6 C287.8,116.7 289.2,120 290.5,122 C291.8,124 292.4,125.8 293.5,128.5 C294.6,131.2 295.9,135.3 297,138.5 C298.1,141.7 299.5,144.9 299.8,147.5 C300.1,150.1 299.8,152.2 299,154 C298.2,155.8 297.1,157.6 295.3,158.6 C293.5,159.6 290.5,159.7 288,160 C285.5,160.3 283.5,160.7 280.2,160.3 C276.9,159.9 271.5,158.9 268,157.8 C264.5,156.8 261.1,155.2 259,154 C256.9,152.8 255.9,151.6 255.3,150.5 C254.7,149.4 254.9,148.7 255.3,147.5 C255.8,146.3 256.5,145.3 258,143.5 C259.5,141.7 262.1,139.3 264.5,136.8 C266.9,134.3 269.9,131.1 272.5,128.5 C275.1,126 277.8,123.5 280,121.5 C282.2,119.5 284.2,116.5 286,116.6Z"/><path d="M300.5,103.5 C300.9,100.7 303.6,99.4 306,98 C308.4,96.6 311.9,95.7 315,95 C318.1,94.3 322,93.5 324.4,93.8 C326.8,94 328.5,94.8 329.5,96.5 C330.5,98.2 330.3,100.9 330.6,104 C330.9,107.1 331,110.7 331.2,115 C331.4,119.3 332.3,125.8 331.9,130 C331.5,134.2 330.3,137.7 329,140 C327.7,142.3 326,143.6 324,143.8 C322,144 319.1,142.6 317,141 C314.9,139.4 313.1,136.5 311.5,134 C309.9,131.5 309,129.2 307.7,126 C306.4,122.8 304.7,118.8 303.5,115 C302.3,111.2 300.1,106.3 300.5,103.5Z"/><path d="M336.5,87.5 C338.3,85.2 345.8,86.2 350,86 C354.2,85.8 358.8,86 362,86.3 C365.2,86.6 367.1,86.8 369,88 C370.9,89.2 372.1,91.5 373.7,93.5 C375.3,95.5 376.9,97.7 378.5,100 C380.1,102.3 382.6,105.4 383.3,107.4 C384,109.4 383.4,110.1 382.8,112 C382.2,113.9 381,116.2 379.5,119 C378,121.8 375.6,126.1 373.7,128.5 C371.8,130.9 370.2,132 368,133.5 C365.8,135 362.4,136.6 360.5,137.5 C358.6,138.4 358.3,140.3 356.3,139 C354.3,137.7 350.8,133.6 348.6,129.4 C346.4,125.2 344.5,119 342.9,114.1 C341.3,109.2 340.1,104.4 339,100 C337.9,95.6 334.7,89.8 336.5,87.5Z"/><path d="M398.7,114.3 C400.2,114.3 402.3,116.7 403.7,119.4 C405.1,122.2 406.4,127 407.3,130.8 C408.2,134.6 409.2,139.4 409.4,142.3 C409.6,145.2 410,146.8 408.7,148 C407.4,149.2 405.3,149.4 401.5,149.5 C397.7,149.6 388.9,149.3 385.7,148.8 C382.5,148.3 382.7,147.9 382.2,146.6 C381.7,145.3 381.8,143.8 382.9,140.9 C384,138 386.7,133 388.6,129.4 C390.5,125.8 392.7,121.9 394.4,119.4 C396.1,116.9 397.1,114.3 398.7,114.3Z"/><path d="M375,170 C377.6,168.8 381.2,166.9 386.8,165.9 C392.4,164.9 404.5,164.1 408.5,164.2 C412.5,164.3 411,164 411,166.7 C411,169.3 409.8,175.6 408.5,180.1 C407.2,184.6 405.7,189.9 403.5,193.5 C401.3,197.1 397.6,200.1 395.1,201.9 C392.6,203.7 390.9,205 388.4,204.4 C385.9,203.8 382.5,201.4 380,198.5 C377.5,195.6 375.1,190.2 373.4,186.8 C371.7,183.5 370.4,180.6 370,178.4 C369.6,176.2 370.4,174.8 371.2,173.4 C372,172 372.4,171.2 375,170Z"/><path d="M240.8,170.1 C244.3,168.2 251.7,170.3 257,170.8 C262.3,171.3 268.5,172 272.4,173 C276.3,174 278.8,173.7 280.2,176.8 C281.6,180 281,187.2 281,191.9 C281,196.7 280.7,202.6 280.2,205.3 C279.7,208 279.5,206 278.2,207.9 C276.9,209.8 275.8,214.3 272.4,216.5 C269,218.7 262.9,220.6 258.1,220.8 C253.3,221 247.5,219.4 243.7,217.9 C239.9,216.4 237.1,215.3 235.5,212 C233.9,208.7 234,202.7 234.1,197.8 C234.2,192.9 235,187.1 236.1,182.5 C237.2,177.9 237.3,172 240.8,170.1Z"/><path d="M230.7,240 C232,238.6 234.6,236.5 237.9,235.7 C241.2,234.9 247,234.6 250.8,235 C254.6,235.4 258.5,236.6 260.9,237.9 C263.3,239.2 264.7,241.1 265.2,242.9 C265.7,244.7 264.9,247.1 263.7,248.7 C262.5,250.3 260.9,251.8 258,252.6 C255.1,253.4 250.3,253.8 246.5,253.8 C242.7,253.8 237.6,253.4 235,252.6 C232.4,251.8 231.5,250.1 230.7,248.7 C229.9,247.3 230,245.8 230,244.3 C230,242.9 229.4,241.4 230.7,240Z"/><path d="M240.8,262.3 C242.7,261 249.2,260.4 253.7,259.6 C258.2,258.9 262.7,258.4 268,257.8 C273.3,257.2 281.7,255.8 285.3,256 C288.9,256.1 289.1,256.8 289.6,258.7 C290.1,260.6 289.3,264.4 288.1,267.3 C286.9,270.2 284.1,273.3 282.4,275.9 C280.7,278.5 280,281.6 278.1,283.1 C276.2,284.7 273.5,285.7 270.9,285.2 C268.3,284.7 266.4,282.5 262.3,280.2 C258.2,277.9 249.8,273.8 246.5,271.6 C243.2,269.5 243.1,268.9 242.2,267.3 C241.2,265.8 238.9,263.6 240.8,262.3Z"/><path d="M313.5,253.9 C315.3,253.1 317.9,251.9 319.5,253.9 C321.1,255.9 322.3,259.9 323.1,265.9 C323.9,271.9 324.1,283.3 324.3,289.8 C324.5,296.3 324.5,300.3 324.5,305 C324.5,309.7 325.6,314.2 324.5,318 C323.4,321.8 320.2,325.9 318,327.8 C315.8,329.7 314.4,330.3 311.4,329.5 C308.4,328.7 303.2,327.3 299.9,322.9 C296.6,318.5 292.8,307.7 291.6,303.2 C290.5,298.7 291.9,298.9 293,296 C294.1,293.1 296.2,289.8 298,286 C299.8,282.2 302.1,277.7 303.9,273.1 C305.7,268.6 307.1,261.9 308.7,258.7 C310.3,255.5 311.7,254.7 313.5,253.9Z"/><path d="M341.2,260 C342.5,259.2 344.1,260.4 346,261.5 C347.9,262.6 350,263.8 352.4,266.3 C354.8,268.8 358.3,273.4 360.6,276.4 C362.9,279.3 364.3,281.6 366,284 C367.7,286.4 369.4,287.6 370.7,290.7 C372,293.8 373.4,299.2 373.8,302.9 C374.2,306.6 373.8,310 372.8,313.1 C371.8,316.2 370.1,318.8 367.7,321.3 C365.3,323.8 361.4,327 358.5,328.3 C355.6,329.6 352.9,330.6 350.4,329.4 C347.8,328.2 345.1,326.1 343.2,321.3 C341.3,316.6 340.2,307.7 339.2,300.9 C338.2,294.1 337.3,286.3 337.1,280.5 C336.9,274.7 337.4,269.7 338.1,266.3 C338.8,262.9 339.9,260.8 341.2,260Z"/><path d="M361.2,234.3 C362.9,234.3 365.2,233.6 367,235.1 C368.8,236.6 370.3,239.9 372,243.5 C373.7,247.1 375.4,252.4 377.1,256.9 C378.8,261.4 381.4,267.4 382.1,270.3 C382.8,273.2 382.1,273.8 381.3,274.5 C380.5,275.2 379.5,276.3 377.1,274.5 C374.7,272.7 370.4,267.1 367,263.6 C363.6,260.1 359.5,256.4 357,253.5 C354.5,250.6 352.7,248.2 352,246 C351.3,243.8 352,241.9 352.8,240.1 C353.6,238.3 355.6,236.3 357,235.3 C358.4,234.3 359.5,234.3 361.2,234.3Z"/></g><g fill="#fff" stroke="#000" stroke-width="2"><ellipse cx="280" cy="144.3" rx="6.8" ry="7.2"/><path d="M311.3,110.5 C311.9,109.7 315.4,108.8 316.5,108.8 C317.6,108.8 321.7,109.1 322.5,110 C323.3,110.9 324.1,116.5 324.2,118 C324.2,119.5 323.7,124.2 323,125 C322.3,125.8 318.6,126.4 317.5,126.2 C316.4,126 312.7,124.5 312,123.5 C311.3,122.5 310.9,117.8 310.8,116.5 C310.7,115.2 310.7,111.3 311.3,110.5Z" stroke-linejoin="round"/><ellipse cx="358.5" cy="108.6" rx="7.6" ry="9.6"/><ellipse cx="397.5" cy="133.8" rx="5.8" ry="7.8"/><ellipse cx="391.8" cy="180.1" rx="8.4" ry="7.6"/><ellipse cx="254.5" cy="185" rx="8" ry="6"/><ellipse cx="249" cy="206" rx="8.6" ry="7.2"/><path d="M238.5,243 C238.9,242.4 242.4,241.6 243.5,241.5 C244.6,241.4 248.9,241.8 249.5,242.3 C250.1,242.8 249.5,245.8 249,246.5 C248.5,247.2 245.4,249.2 244.5,249.3 C243.6,249.4 240.1,247.8 239.5,247.2 C238.9,246.6 238.1,243.6 238.5,243Z" stroke-linejoin="round"/><path d="M262.8,266.8 C262.9,265.9 269.2,265.8 271,265.6 C272.8,265.4 280.4,264.4 280.8,265 C281.2,265.6 276.1,270.5 275,271.5 C273.9,272.5 271.2,275.5 270,275 C268.8,274.5 262.7,267.7 262.8,266.8Z" stroke-linejoin="round"/><ellipse cx="308.8" cy="307.3" rx="8.3" ry="11.2"/><ellipse cx="355.5" cy="294.8" rx="7.2" ry="11"/><path d="M364.3,247.5 C364.4,246.3 365.8,244.2 366.2,244.5 C366.6,244.8 367.8,248.4 368,250 C368.2,251.6 368.3,259.2 368.2,260.5 C368.1,261.8 367.1,263.2 366.8,262.8 C366.5,262.4 365.2,257.5 365,256 C364.8,254.5 364.2,248.7 364.3,247.5Z" stroke-linejoin="round"/></g><path d="M303.5,41.8 L310.2,43.7 L319.8,47.5 L327.4,50.4 L335.1,53.3 L339.9,58.1 L343.2,64.8 L345,72.4 L346.2,80 L337.5,80 L337.9,74.3 L337,66.7 L333.2,60.9 L327.4,58.1 L315.9,55.2 L305.4,51.4 L301.6,48.5Z" fill="#fff" stroke="none"/><path d="M303.5,41.8 C304.6,42.1 307.5,42.8 310.2,43.7 C312.9,44.7 316.9,46.4 319.8,47.5 C322.7,48.6 324.8,49.4 327.4,50.4 C329.9,51.4 333,52 335.1,53.3 C337.2,54.6 338.5,56.2 339.9,58.1 C341.2,60 342.3,62.4 343.2,64.8 C344.1,67.2 344.5,69.9 345,72.4 C345.5,74.9 346,78.7 346.2,80" fill="none" stroke="#000" stroke-width="2.7" stroke-linecap="round" stroke-linejoin="round"/><path d="M301.6,48.5 C302.2,49 303,50.3 305.4,51.4 C307.8,52.5 312.2,54.1 315.9,55.2 C319.6,56.3 324.5,57.2 327.4,58.1 C330.3,59 331.6,59.5 333.2,60.9 C334.8,62.3 336.2,64.5 337,66.7 C337.8,68.9 337.8,72.1 337.9,74.3 C338,76.5 337.6,79 337.5,80" fill="none" stroke="#000" stroke-width="2.7" stroke-linecap="round" stroke-linejoin="round"/><path d="M304,41.6 Q297.5,42.5 301.8,48.8" fill="none" stroke="#000" stroke-width="4.6" stroke-linecap="round"/><path d="M278.5,26.3 C281.1,28.1 291.4,35.2 294,37" fill="none" stroke="#000" stroke-width="4.2" stroke-linecap="round" stroke-linejoin="round"/><path d="M286.5,38.2 L292.5,36.2 L295,30.5 L298.5,30.5 L298.2,36 L302.5,43.5 L295,41.8 L287,41.4Z" fill="#000"/><path d="M183.6,154.2 L192,146.5 L200.3,139.2 L208.7,133.2 L215.9,129.9 L225.5,127.3 L233.8,126.2 L243.4,124.8 L251.8,123.8 L262,122.5 L252,134.5 L245.2,135.6 L236.8,137.8 L228.5,140.3 L220.1,143.6 L211.7,147.2 L203.5,151 L195.6,155.8 L187.2,160.5Z" fill="#fff" stroke="none"/><path d="M183.6,154.2 C185,152.9 189.2,149 192,146.5 C194.8,144 197.5,141.4 200.3,139.2 C203.1,137 206.1,134.8 208.7,133.2 C211.3,131.6 213.1,130.9 215.9,129.9 C218.7,128.9 222.5,127.9 225.5,127.3 C228.5,126.7 230.8,126.6 233.8,126.2 C236.8,125.8 240.4,125.2 243.4,124.8 C246.4,124.4 248.7,124.2 251.8,123.8 C254.9,123.4 260.3,122.7 262,122.5" fill="none" stroke="#000" stroke-width="2.7" stroke-linecap="round" stroke-linejoin="round"/><path d="M187.2,160.5 C188.6,159.7 192.9,157.4 195.6,155.8 C198.3,154.2 200.8,152.4 203.5,151 C206.2,149.6 208.9,148.4 211.7,147.2 C214.5,146 217.3,144.8 220.1,143.6 C222.9,142.4 225.7,141.3 228.5,140.3 C231.3,139.3 234,138.6 236.8,137.8 C239.6,137 242.7,136.2 245.2,135.6 C247.7,135 250.9,134.7 252,134.5" fill="none" stroke="#000" stroke-width="2.7" stroke-linecap="round" stroke-linejoin="round"/><path d="M183.6,154.2 Q180.5,160 187.2,160.5" fill="none" stroke="#000" stroke-width="3.8"/><path d="M201.7,142.4 C202.1,141.8 208.9,138.4 210,137.8 C211.1,137.2 217.6,133.7 218.4,133.2 C219.2,132.7 221.7,130.7 222.6,130.7 C223.5,130.7 231.2,133.3 231.5,133.8 C231.8,134.3 227.6,137.4 226.8,137.8 C226,138.2 221.2,140 220.1,140.4 C219,140.8 211.1,143.5 210,143.9 C208.9,144.3 204,146.4 203.4,146.3 C202.8,146.2 201.3,143 201.7,142.4Z"/><path d="M235.2,139.2 C236.3,138.1 240.8,133.7 241.9,132.6" fill="none" stroke="#000" stroke-width="3.2" stroke-linecap="round" stroke-linejoin="round"/><path d="M239,127 C239.8,127.3 242.8,128.7 243.5,129" fill="none" stroke="#000" stroke-width="3" stroke-linecap="round" stroke-linejoin="round"/><path d="M161.8,171.1 L171.5,167.4 L167.8,162 L169.9,160.4 L175.8,163.1 L182.3,162.5 L182.8,164.7 L178,169 L176.4,171.7 L174.8,169.5 L162.9,172.6Z" fill="#000"/><path d="M155.5,174.5 C157.2,176.8 164.2,185.8 166,188" fill="none" stroke="#000" stroke-width="3.8" stroke-linecap="round" stroke-linejoin="round"/><path d="M158.6,188.4 L169.8,183 L171.5,194.2Z" fill="#000"/><path d="M172.4,202 L177.2,208.7 L181.1,218.3 L184.9,225.9 L190.6,235.5 L195,244 L201,254.9 L207,259.7 L214.1,263.3 L222.5,264.5 L230.9,265.7 L236.9,269.3 L223.7,250.7 L218.9,248.9 L211.7,242.9 L204.6,234.6 L197.4,225 L190.6,212.5 L184.9,203 L179.1,197.2Z" fill="#fff" stroke="none"/><path d="M172.4,202 C173.2,203.1 175.8,206 177.2,208.7 C178.6,211.4 179.8,215.4 181.1,218.3 C182.4,221.2 183.3,223 184.9,225.9 C186.5,228.8 188.9,232.5 190.6,235.5 C192.3,238.5 193.3,240.8 195,244 C196.7,247.2 199,252.3 201,254.9 C203,257.5 204.8,258.3 207,259.7 C209.2,261.1 211.5,262.5 214.1,263.3 C216.7,264.1 219.7,264.1 222.5,264.5 C225.3,264.9 228.5,264.9 230.9,265.7 C233.3,266.5 235.9,268.7 236.9,269.3" fill="none" stroke="#000" stroke-width="2.4" stroke-linecap="round" stroke-linejoin="round"/><path d="M179.1,197.2 C180.1,198.2 183,200.4 184.9,203 C186.8,205.6 188.5,208.8 190.6,212.5 C192.7,216.2 195.1,221.3 197.4,225 C199.7,228.7 202.2,231.6 204.6,234.6 C207,237.6 209.3,240.5 211.7,242.9 C214.1,245.3 216.9,247.6 218.9,248.9 C220.9,250.2 222.9,250.4 223.7,250.7" fill="none" stroke="#000" stroke-width="2.4" stroke-linecap="round" stroke-linejoin="round"/><path d="M171,201 Q170,196 179.1,197.2" fill="none" stroke="#000" stroke-width="3.5" stroke-linecap="round"/><path d="M191,226 C192.5,228.2 196.9,235.1 200,239.5 C203.1,243.9 207.9,250.3 209.5,252.5" fill="none" stroke="#000" stroke-width="3.2" stroke-linecap="round" stroke-linejoin="round"/><path d="M195.5,225 C197,227.2 201.5,233.8 204.5,238 C207.5,242.2 212,248.4 213.5,250.5" fill="none" stroke="#000" stroke-width="2.8" stroke-linecap="round" stroke-linejoin="round"/><path d="M178.5,213.8 C180,214.3 186,216.3 187.5,216.8" fill="none" stroke="#000" stroke-width="3.6" stroke-linecap="round" stroke-linejoin="round"/><path d="M403,204 L406,205.2 L415.4,202.5 L426.1,199.8 L435.6,197.1 L445,193.1 L452,191.1 L455,201.8 L447.7,202.5 L438.3,205.2 L428.8,207.9 L419.4,210.6 L412.7,213.3 L401.9,216.6 L387.1,220 L383.9,219.4Z" fill="#fff" stroke="none"/><path d="M403,204 C403.5,204.2 403.9,205.4 406,205.2 C408.1,204.9 412,203.4 415.4,202.5 C418.8,201.6 422.7,200.7 426.1,199.8 C429.5,198.9 432.5,198.2 435.6,197.1 C438.8,196 442.3,194.1 445,193.1 C447.7,192.1 450.8,191.4 452,191.1" fill="none" stroke="#000" stroke-width="2.6" stroke-linecap="round" stroke-linejoin="round"/><path d="M383.9,219.4 C384.4,219.5 384.1,220.5 387.1,220 C390.1,219.5 397.6,217.7 401.9,216.6 C406.2,215.5 409.8,214.3 412.7,213.3 C415.6,212.3 416.7,211.5 419.4,210.6 C422.1,209.7 425.6,208.8 428.8,207.9 C432,207 435.2,206.1 438.3,205.2 C441.4,204.3 444.9,203.1 447.7,202.5 C450.5,201.9 453.8,201.9 455,201.8" fill="none" stroke="#000" stroke-width="2.6" stroke-linecap="round" stroke-linejoin="round"/><rect x="451.8" y="190.6" width="5.8" height="11.2" rx="1" fill="#fff" stroke="#000" stroke-width="2.4"/><path d="M460.4,194.6 L477.7,188.8 L477.7,182.6 L484,185.7 L499.6,183.1 L499.6,184.6 L487.1,190.9 L482.9,195.1 L481.3,198.8 L480.3,195.1 L462.5,199.3 L460.4,198.3Z" fill="#000"/><path d="M405,217.5 C405.8,217 408.3,215.6 410,214.5 C411.7,213.4 414.5,211.8 415.4,211.2" fill="none" stroke="#000" stroke-width="2.6" stroke-linecap="round" stroke-linejoin="round"/><path d="M428.8,209 C429.5,208.6 431.4,207.4 433,206.5 C434.6,205.6 437.4,204.2 438.3,203.8" fill="none" stroke="#000" stroke-width="2.6" stroke-linecap="round" stroke-linejoin="round"/><path d="M415.4,203.8 C417.2,203.4 422.6,202.2 426,201.5 C429.4,200.8 434.3,200.1 436,199.8" fill="none" stroke="#000" stroke-width="2.4" stroke-linecap="round" stroke-linejoin="round"/><path d="M300.5,338 L300.9,341.5 L298.7,351.6 L294.4,360.2 L288.7,367.4 L281.5,373.1 L277,375.5 L281.5,380.3 L285.8,376 L293,370.2 L299.5,361.6 L303.8,351.6 L305.2,341.5 L306,338Z" fill="#fff" stroke="none"/><path d="M300.5,338 C300.6,338.6 301.2,339.2 300.9,341.5 C300.6,343.8 299.8,348.5 298.7,351.6 C297.6,354.7 296.1,357.6 294.4,360.2 C292.7,362.8 290.8,365.2 288.7,367.4 C286.6,369.5 283.4,371.8 281.5,373.1 C279.6,374.5 277.8,375.1 277,375.5" fill="none" stroke="#000" stroke-width="2.3" stroke-linecap="round" stroke-linejoin="round"/><path d="M306,338 C305.9,338.6 305.6,339.2 305.2,341.5 C304.8,343.8 304.8,348.2 303.8,351.6 C302.9,355 301.3,358.5 299.5,361.6 C297.7,364.7 295.3,367.8 293,370.2 C290.7,372.6 287.7,374.3 285.8,376 C283.9,377.7 282.2,379.6 281.5,380.3" fill="none" stroke="#000" stroke-width="2.3" stroke-linecap="round" stroke-linejoin="round"/><path d="M274.5,375.2 L280.6,372.4 L283.8,382 L277.6,384.8 Z" fill="#000" stroke="#000" stroke-width="2.2" stroke-linejoin="round"/><path d="M279,375.5 L281.2,380.5" stroke="#fff" stroke-width="1.2" stroke-linecap="round"/><path d="M249,399.5 C251.8,397.4 263.2,389.1 266,387" fill="none" stroke="#000" stroke-width="3.8" stroke-linecap="round" stroke-linejoin="round"/><path d="M259.8,383.5 L275,380.5 L268.8,393.2Z" fill="#000"/><g stroke="#8a8a8a" stroke-width="1.3"><line x1="415" y1="117" x2="501.3" y2="117"/><line x1="336.5" y1="243.2" x2="501" y2="243.2"/></g></svg>
<div class="t" style="left:6px;top:163px">inward flowing lymph</div>
<div class="t" style="left:506px;top:107px">fibrous covering</div>
<div class="t" style="left:505px;top:172px">outward flowing lymph</div>
<div class="t" style="left:506px;top:233px">foreign substances<br>filtered out of lymph<br>as it trickles through<br>lymph node</div>
</body></html>
